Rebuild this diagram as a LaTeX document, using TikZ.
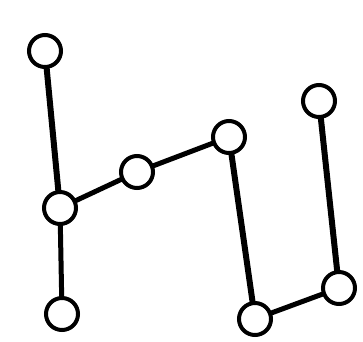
\documentclass[tikz,border=0pt]{standalone}
\begin{document}
\begin{tikzpicture}[x=1pt,y=-1pt,
  vtx/.style={circle,draw=black,fill=white,line width=4pt,minimum size=32pt,inner sep=0pt},
  edge/.style={line width=5pt,draw=black},
  thickedge/.style={line width=6pt,draw=black}]
\useasboundingbox (0,0) rectangle (363,341);
\coordinate (pA) at (45,51);
\coordinate (pB) at (60,208);
\coordinate (pC) at (62,314);
\coordinate (pD) at (137,172);
\coordinate (pE) at (229,137);
\coordinate (pF) at (255,319);
\coordinate (pG) at (339,288);
\coordinate (pH) at (319,101);
\draw[thickedge] (pA) -- (pB);
\draw[edge] (pB) -- (pC);
\draw[edge] (pB) -- (pD);
\draw[edge] (pD) -- (pE);
\draw[thickedge] (pE) -- (pF);
\draw[edge] (pF) -- (pG);
\draw[thickedge] (pG) -- (pH);
\node[vtx] (A) at (pA) {};
\node[vtx] (B) at (pB) {};
\node[vtx] (C) at (pC) {};
\node[vtx] (D) at (pD) {};
\node[vtx] (E) at (pE) {};
\node[vtx] (F) at (pF) {};
\node[vtx] (G) at (pG) {};
\node[vtx] (H) at (pH) {};
\end{tikzpicture}
\end{document}
